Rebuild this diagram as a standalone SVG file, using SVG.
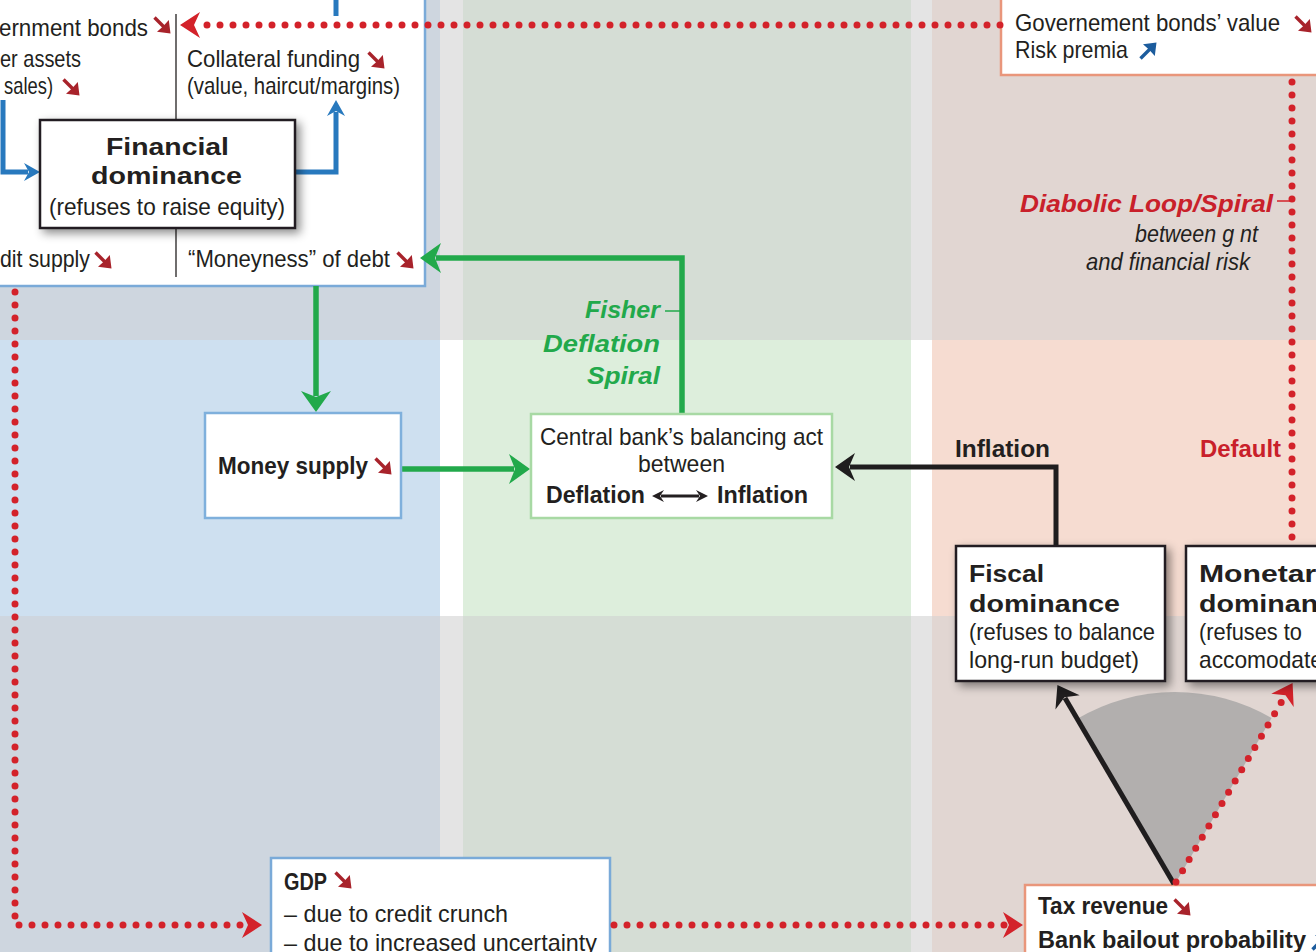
<svg xmlns="http://www.w3.org/2000/svg" width="1316" height="952" viewBox="0 0 1316 952">
  <defs>
    <style>
      .t{font-family:"Liberation Sans Narrow","Liberation Sans",Arial,sans-serif;fill:#231f20;font-size:24px}
      .b{font-weight:bold}
      .it{font-style:italic}
      .red{fill:#c9202a}
      .grn{fill:#22a94b}
      .dot{fill:none;stroke:#d3222a;stroke-width:7;stroke-linecap:round;stroke-dasharray:0 13}
      .blue{fill:none;stroke:#2879be;stroke-width:5}
      .green{fill:none;stroke:#22a94b;stroke-width:5.5}
      .black{fill:none;stroke:#1f1d1e;stroke-width:5}
      .frame{fill:#fff;stroke-width:2.5}
      .dom{fill:#fff;stroke:#231f20;stroke-width:2.5}
    </style>
    <filter id="sh" x="-20%" y="-20%" width="150%" height="160%">
      <feDropShadow dx="4" dy="4" stdDeviation="5" flood-color="#000" flood-opacity="0.45"/>
    </filter>
    <marker id="mr" markerUnits="userSpaceOnUse" viewBox="-6 -14 22 28" refX="0" refY="0" markerWidth="22" markerHeight="28" orient="auto">
      <path d="M15,0 L-5,-13 L1,0 L-5,13 Z" fill="#d3222a" stroke="none"/>
    </marker>
    <marker id="mg" markerUnits="userSpaceOnUse" viewBox="-6 -16 24 32" refX="0" refY="0" markerWidth="24" markerHeight="32" orient="auto">
      <path d="M16,0 L-5,-15 L1,0 L-5,15 Z" fill="#22a94b" stroke="none"/>
    </marker>
    <marker id="mb" markerUnits="userSpaceOnUse" viewBox="-5 -10 18 20" refX="0" refY="0" markerWidth="18" markerHeight="20" orient="auto">
      <path d="M12,0 L-4,-9 L1,0 L-4,9 Z" fill="#2879be" stroke="none"/>
    </marker>
    <marker id="mk" markerUnits="userSpaceOnUse" viewBox="-6 -15 22 30" refX="0" refY="0" markerWidth="22" markerHeight="30" orient="auto">
      <path d="M15,0 L-5,-14 L1,0 L-5,14 Z" fill="#1f1d1e" stroke="none"/>
    </marker>
    <marker id="mks" markerUnits="userSpaceOnUse" viewBox="-4 -7 14 14" refX="0" refY="0" markerWidth="14" markerHeight="14" orient="auto-start-reverse">
      <path d="M9,0 L-3,-6 L1,0 L-3,6 Z" fill="#231f20" stroke="none"/>
    </marker>
    <!-- small trend icons: falling (red) and rising (blue) -->
    <g id="dn">
      <path d="M2.5,2.5 L12.5,12.5" stroke="#a8232b" stroke-width="3.4" fill="none"/>
      <path d="M18.5,18.5 L5,16.8 L11.2,11.2 L16.8,5 Z" fill="#a8232b"/>
    </g>
    <g id="up">
      <path d="M2.5,17.5 L12.5,7.5" stroke="#1c5c9d" stroke-width="3.4" fill="none"/>
      <path d="M18.5,1.5 L5,3.2 L11.2,8.8 L16.8,15 Z" fill="#1c5c9d"/>
    </g>
  </defs>

  <!-- background grid: three columns x three rows -->
  <g id="background">
    <rect x="0" y="0" width="440" height="340" fill="#ced6df"/>
    <rect x="0" y="340" width="440" height="276" fill="#cee0f0"/>
    <rect x="0" y="616" width="440" height="336" fill="#ced6df"/>
    <rect x="440" y="0" width="23" height="340" fill="#e4e4e4"/>
    <rect x="440" y="340" width="23" height="276" fill="#ffffff"/>
    <rect x="440" y="616" width="23" height="336" fill="#e4e4e4"/>
    <rect x="463" y="0" width="448" height="340" fill="#d5ddd5"/>
    <rect x="463" y="340" width="448" height="276" fill="#ddeedc"/>
    <rect x="463" y="616" width="448" height="336" fill="#d5ddd5"/>
    <rect x="911" y="0" width="21" height="340" fill="#e4e4e4"/>
    <rect x="911" y="340" width="21" height="276" fill="#ffffff"/>
    <rect x="911" y="616" width="21" height="336" fill="#e4e4e4"/>
    <rect x="932" y="0" width="384" height="340" fill="#e1d6d2"/>
    <rect x="932" y="340" width="384" height="276" fill="#f6dcd1"/>
    <rect x="932" y="616" width="384" height="336" fill="#e1d6d2"/>
  </g>

  <!-- banking sector panel -->
  <g id="bank-panel">
    <rect class="frame" x="-5" y="-5" width="430" height="291" stroke="#7aaad8"/>
    <line x1="176" y1="14" x2="176" y2="120" stroke="#231f20" stroke-width="1.3"/>
    <line x1="176" y1="228" x2="176" y2="277" stroke="#231f20" stroke-width="1.3"/>
    <text class="t" x="-1" y="36" textLength="149" lengthAdjust="spacingAndGlyphs">ernment bonds</text>
    <use href="#dn" x="152" y="15"/>
    <text class="t" x="0" y="67" textLength="81" lengthAdjust="spacingAndGlyphs">er assets</text>
    <text class="t" x="4" y="94" textLength="49" lengthAdjust="spacingAndGlyphs">sales)</text>
    <use href="#dn" x="61" y="77"/>
    <text class="t" x="187" y="67" textLength="173" lengthAdjust="spacingAndGlyphs">Collateral funding</text>
    <use href="#dn" x="366" y="50"/>
    <text class="t" x="187" y="94" font-size="21" textLength="213" lengthAdjust="spacingAndGlyphs">(value, haircut/margins)</text>
    <text class="t" x="0" y="267" textLength="90" lengthAdjust="spacingAndGlyphs">dit supply</text>
    <use href="#dn" x="93" y="250"/>
    <text class="t" x="188" y="267" textLength="202" lengthAdjust="spacingAndGlyphs">“Moneyness” of debt</text>
    <use href="#dn" x="395" y="250"/>
  </g>

  <g id="bond-value">
    <rect class="frame" x="1001" y="-5" width="330" height="80" stroke="#e9967b"/>
    <text class="t" x="1015" y="31" textLength="265" lengthAdjust="spacingAndGlyphs">Governement bonds’ value</text>
    <use href="#dn" x="1293" y="14"/>
    <text class="t" x="1015" y="58" textLength="113" lengthAdjust="spacingAndGlyphs">Risk premia</text>
    <use href="#up" x="1138" y="41"/>
  </g>

  <g id="tax-revenue">
    <rect class="frame" x="1025" y="885" width="300" height="90" stroke="#e9967b"/>
    <text class="t b" x="1038" y="914" font-size="26" textLength="130" lengthAdjust="spacingAndGlyphs">Tax revenue</text>
    <use href="#dn" x="1172" y="897"/>
    <text class="t b" x="1038" y="948" font-size="26" textLength="268" lengthAdjust="spacingAndGlyphs">Bank bailout probability</text>
    <use href="#up" x="1310" y="932"/>
  </g>

  <g id="gdp">
    <rect class="frame" x="271" y="858" width="339" height="110" stroke="#7aaad8"/>
    <text class="t b" x="284" y="890" font-size="26" textLength="43" lengthAdjust="spacingAndGlyphs">GDP</text>
    <use href="#dn" x="333" y="870"/>
    <text class="t" x="284" y="922" textLength="224" lengthAdjust="spacingAndGlyphs">– due to credit crunch</text>
    <text class="t" x="284" y="951" textLength="313" lengthAdjust="spacingAndGlyphs">– due to increased uncertainty</text>
  </g>

  <!-- sector between the two dominance arrows -->
  <path id="sector" d="M1175,884 L1077.3,718.7 A192,192 0 0 1 1271.6,718.1 Z" fill="#b2afae"/>

  <g id="connectors">
    <path class="blue" d="M3,100 V172 H28" marker-end="url(#mb)"/>
    <path class="blue" d="M295,172 H336 V112" marker-end="url(#mb)"/>
    <path class="blue" d="M336,0 V16"/>
    <path class="green" d="M682,413 V258 H436" marker-end="url(#mg)"/>
    <path class="green" d="M316,286 V396" marker-end="url(#mg)"/>
    <path class="green" d="M401,469 H514" marker-end="url(#mg)"/>
    <path class="black" d="M1056,546 V467 H850" marker-end="url(#mk)"/>
    <path class="black" d="M1174,884 L1065,698" marker-end="url(#mk)"/>
    <path class="dot" d="M1000,25 H195" marker-end="url(#mr)"/>
    <path class="dot" d="M15,292 V925 H247" marker-end="url(#mr)"/>
    <path class="dot" d="M614,925 H1008" marker-end="url(#mr)"/>
    <path class="dot" d="M1292,82 V541"/>
    <path class="dot" d="M1176,882 L1285,696" marker-end="url(#mr)"/>
    <path d="M665,311 H681" stroke="#22a94b" stroke-width="1.5"/>
    <path d="M1277,201 H1290" stroke="#d3222a" stroke-width="1.5"/>
  </g>

  <g id="fisher-label">
    <text class="t b it grn" x="585" y="318" font-size="28" textLength="75" lengthAdjust="spacingAndGlyphs">Fisher</text>
    <text class="t b it grn" x="543" y="352" font-size="28" textLength="117" lengthAdjust="spacingAndGlyphs">Deflation</text>
    <text class="t b it grn" x="587" y="384" font-size="28" textLength="73" lengthAdjust="spacingAndGlyphs">Spiral</text>
  </g>

  <g id="diabolic-label">
    <text class="t b it red" x="1020" y="212" font-size="29" textLength="253" lengthAdjust="spacingAndGlyphs">Diabolic Loop/Spiral</text>
    <text class="t it" x="1135" y="242" font-size="23" fill="#333" textLength="123" lengthAdjust="spacingAndGlyphs">between g nt</text>
    <text class="t it" x="1086" y="270" font-size="23" fill="#333" textLength="164" lengthAdjust="spacingAndGlyphs">and financial risk</text>
  </g>

  <text id="inflation-label" class="t b" x="955" y="457" font-size="27" textLength="95" lengthAdjust="spacingAndGlyphs">Inflation</text>
  <text id="default-label" class="t b red" x="1200" y="457" font-size="27" textLength="81" lengthAdjust="spacingAndGlyphs">Default</text>

  <g id="financial-dominance">
    <rect class="dom" x="40" y="120" width="255" height="108" filter="url(#sh)"/>
    <text class="t b" x="106" y="155" font-size="31" textLength="123" lengthAdjust="spacingAndGlyphs">Financial</text>
    <text class="t b" x="91" y="184" font-size="31" textLength="151" lengthAdjust="spacingAndGlyphs">dominance</text>
    <text class="t" x="49" y="215" textLength="236" lengthAdjust="spacingAndGlyphs">(refuses to raise equity)</text>
  </g>

  <g id="money-supply">
    <rect class="frame" x="205" y="413" width="196" height="105" stroke="#7fb0dc"/>
    <text class="t b" x="218" y="474" font-size="26" textLength="150" lengthAdjust="spacingAndGlyphs">Money supply</text>
    <use href="#dn" x="373" y="456"/>
  </g>

  <g id="central-bank">
    <rect class="frame" x="531" y="414" width="301" height="104" stroke="#a8d9a4"/>
    <text class="t" x="540" y="445" textLength="283" lengthAdjust="spacingAndGlyphs">Central bank’s balancing act</text>
    <text class="t" x="638" y="472" textLength="87" lengthAdjust="spacingAndGlyphs">between</text>
    <text class="t b" x="546" y="503" font-size="25" textLength="99" lengthAdjust="spacingAndGlyphs">Deflation</text>
    <path d="M661,496 H699" stroke="#231f20" stroke-width="3" marker-start="url(#mks)" marker-end="url(#mks)"/>
    <text class="t b" x="717" y="503" font-size="25" textLength="91" lengthAdjust="spacingAndGlyphs">Inflation</text>
  </g>

  <g id="fiscal-dominance">
    <rect class="dom" x="956" y="546" width="209" height="135" filter="url(#sh)"/>
    <text class="t b" x="969" y="582" font-size="31" textLength="75" lengthAdjust="spacingAndGlyphs">Fiscal</text>
    <text class="t b" x="969" y="612" font-size="31" textLength="151" lengthAdjust="spacingAndGlyphs">dominance</text>
    <text class="t" x="969" y="640" textLength="186" lengthAdjust="spacingAndGlyphs">(refuses to balance</text>
    <text class="t" x="969" y="668" textLength="170" lengthAdjust="spacingAndGlyphs">long-run budget)</text>
  </g>

  <g id="monetary-dominance">
    <rect class="dom" x="1186" y="546" width="170" height="135" filter="url(#sh)"/>
    <text class="t b" x="1199" y="582" font-size="31" textLength="134" lengthAdjust="spacingAndGlyphs">Monetary</text>
    <text class="t b" x="1199" y="612" font-size="31" textLength="151" lengthAdjust="spacingAndGlyphs">dominance</text>
    <text class="t" x="1199" y="640" textLength="103" lengthAdjust="spacingAndGlyphs">(refuses to</text>
    <text class="t" x="1199" y="668" textLength="124" lengthAdjust="spacingAndGlyphs">accomodate</text>
  </g>
</svg>
